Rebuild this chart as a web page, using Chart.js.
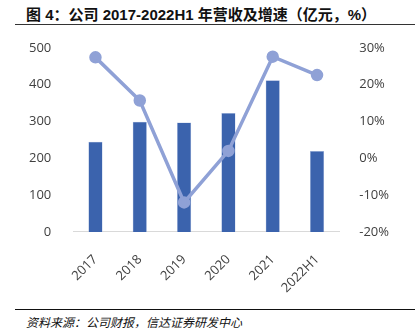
<!DOCTYPE html>
<html>
<head>
<meta charset="utf-8">
<script src="https://cdn.jsdelivr.net/npm/chart.js@4"></script>
<style>
    html, body { margin: 0; padding: 0; background: #fff; }
    #wrap { position: relative; width: 415px; height: 332px; overflow: hidden; }
    #title {
        position: absolute; left: 26px; top: 3px;
        font: bold 15px "Liberation Sans", "Noto Sans CJK SC", sans-serif;
        color: #111; white-space: nowrap;
    }
    #titleLine { position: absolute; left: 15px; right: 0; top: 24px; border-top: 1.5px solid #333; }
    #footLine { position: absolute; left: 15px; right: 0; top: 309px; border-top: 1.5px solid #111; }
    #source {
        position: absolute; left: 26px; top: 313px;
        font: italic 12px "Noto Sans CJK SC", sans-serif;
        color: #111; white-space: nowrap;
    }
    #chartBox { position: absolute; left: 0; top: 26px; width: 415px; height: 282px; }
</style>
</head>
<body>
<div id="wrap">
    <div id="title">图 4：公司 2017-2022H1 年营收及增速（亿元，%）</div>
    <div id="titleLine"></div>
    <div id="chartBox"><canvas id="revenueChart"></canvas></div>
    <div id="footLine"></div>
    <div id="source">资料来源：公司财报，信达证券研发中心</div>
</div>
<script>
    // 年份
    const years = ['2017', '2018', '2019', '2020', '2021', '2022H1'];
    // 营收（亿元）
    const revenues = [245, 299, 297, 323, 412, 220];
    // 营收增速（%）
    const growth = [27.4, 15.7, -12.0, 2.0, 27.6, 22.6];
    // 坐标轴刻度
    const leftTicks = [0, 100, 200, 300, 400, 500];
    const rightTicks = [-20, -10, 0, 10, 20, 30];

    const tickFont = { family: '"Open Sans", "Liberation Sans", sans-serif', size: 13 };

    const ctx = document.getElementById('revenueChart').getContext('2d');
    window.myChart = new Chart(ctx, {
        data: {
            labels: years,
            datasets: [
                {
                    type: 'line',
                    label: '增速',
                    data: growth,
                    yAxisID: 'y1',
                    borderColor: '#8fa1d6',
                    backgroundColor: '#8fa1d6',
                    borderWidth: 3.5,
                    pointRadius: 4.5,
                    pointHoverRadius: 4.5,
                    tension: 0
                },
                {
                    type: 'bar',
                    label: '营收',
                    data: revenues,
                    yAxisID: 'y',
                    backgroundColor: '#3b63ad',
                    borderColor: '#a9bbe0',
                    borderWidth: 0.5,
                    barPercentage: 0.32,
                    categoryPercentage: 1
                }
            ]
        },
        options: {
            responsive: true,
            maintainAspectRatio: false,
            animation: false,
            layout: { padding: { left: 15, right: 14, top: 1, bottom: 0 } },
            plugins: { legend: { display: false }, tooltip: { enabled: false } },
            scales: {
                x: {
                    grid: { display: false },
                    border: { color: '#d9d9d9', width: 1 },
                    ticks: { color: '#404040', font: tickFont, minRotation: 45, maxRotation: 45, padding: 12 }
                },
                y: {
                    position: 'left',
                    min: 0, max: 500,
                    afterBuildTicks: axis => { axis.ticks = leftTicks.map(v => ({ value: v })); },
                    grid: { display: false },
                    border: { display: false },
                    ticks: { color: '#404040', font: tickFont, padding: 14 }
                },
                y1: {
                    position: 'right',
                    min: -20, max: 30,
                    afterBuildTicks: axis => { axis.ticks = rightTicks.map(v => ({ value: v })); },
                    grid: { display: false },
                    border: { display: false },
                    ticks: { color: '#404040', font: tickFont, padding: 12, callback: v => v + '%' }
                }
            }
        }
    });
</script>
</body>
</html>
